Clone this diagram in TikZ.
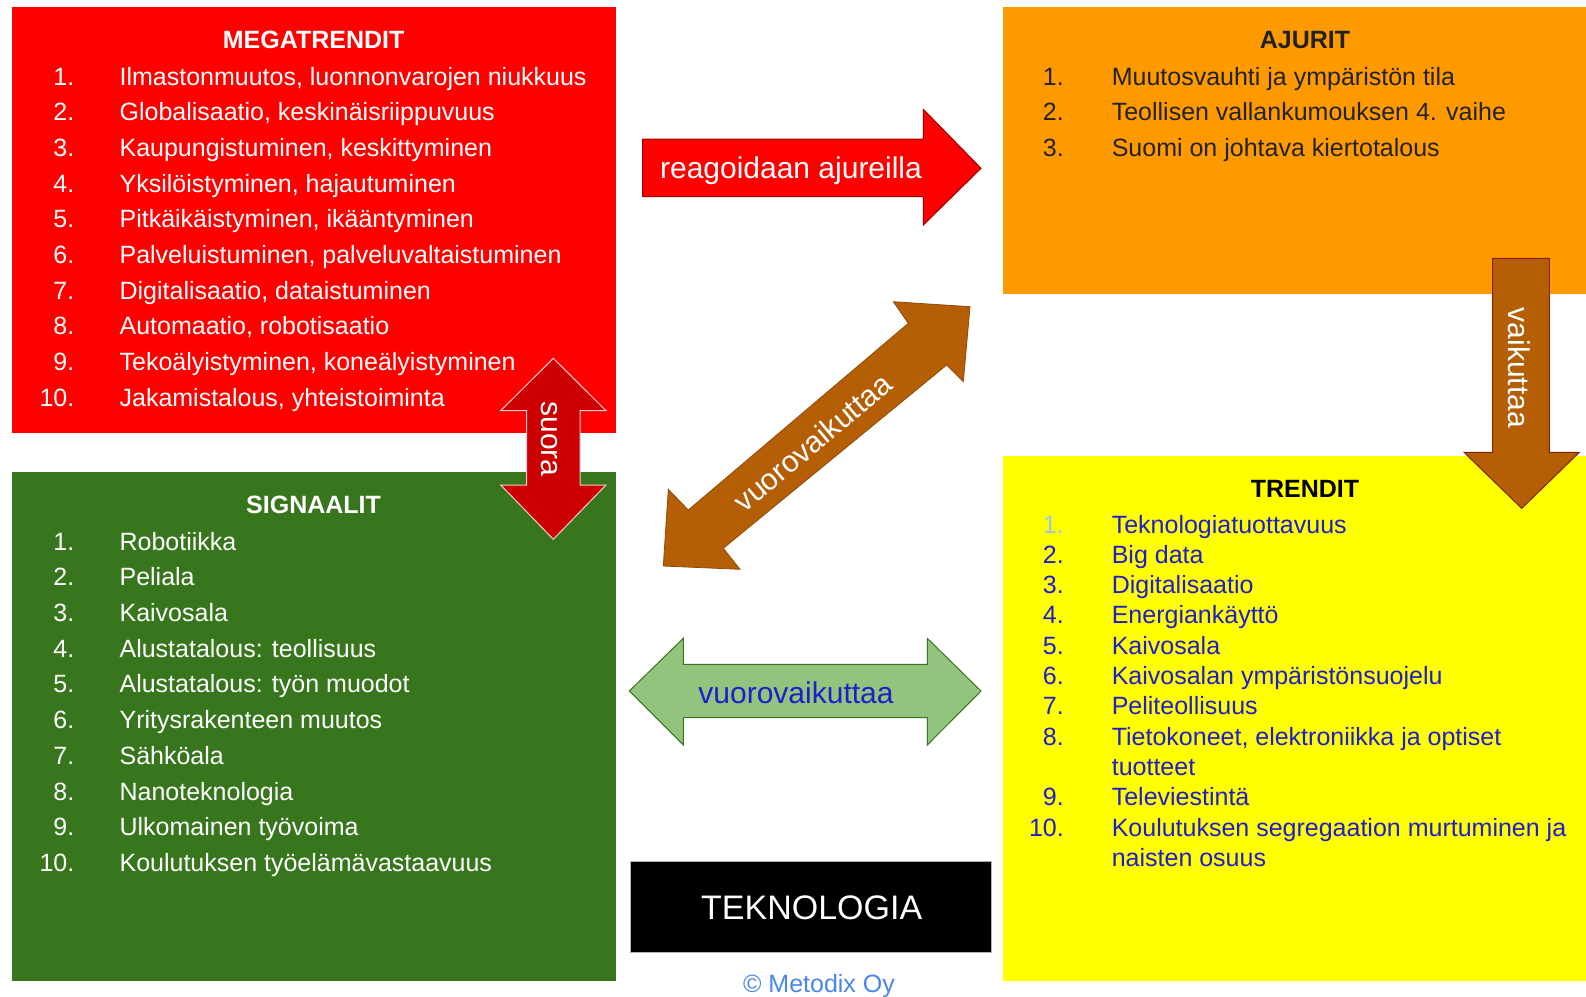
\documentclass[tikz,border=0pt]{standalone}
\usepackage{fontspec}
\setmainfont{Liberation Sans}
\definecolor{megared}{HTML}{FF0000}
\definecolor{siggreen}{HTML}{38761D}
\definecolor{ajorange}{HTML}{FF9900}
\definecolor{tryellow}{HTML}{FFFF00}
\definecolor{suorared}{HTML}{CC0000}
\definecolor{suoraedge}{HTML}{F4CCCC}
\definecolor{brownfill}{HTML}{B45F06}
\definecolor{brownedge}{HTML}{85200C}
\definecolor{lightgreen}{HTML}{93C47D}
\definecolor{trblue}{RGB}{30,30,205}
\definecolor{lightnum}{HTML}{9FC5E8}
\definecolor{copyblue}{HTML}{4A86E8}
\definecolor{ajtext}{HTML}{222222}
\definecolor{darkred}{HTML}{990000}
\tikzset{
  lbl/.style={inner sep=0pt, font=\fontsize{25}{30}\selectfont},
  num/.style={lbl, anchor=base east},
  itm/.style={lbl, anchor=base west},
  ttl/.style={inner sep=0pt, anchor=base, font=\fontsize{25}{30}\selectfont\bfseries},
  arrowtext/.style={inner sep=0pt, text height=20pt, text depth=0pt, font=\fontsize{30}{36}\selectfont, text=white},
}
\begin{document}
\begin{tikzpicture}[x=1pt,y=-1pt]
\useasboundingbox (0,0) rectangle (1586,996);
% panels
\fill[megared] (12,7) rectangle (616,433);
\fill[siggreen] (12,472) rectangle (616,981);
\fill[ajorange] (1003,7) rectangle (1586,294);
\fill[tryellow] (1003,456) rectangle (1586,981);

% MEGATRENDIT
\node[ttl, text=white] (mtitle) at (313.6,48.5) {MEGATRENDIT};
\foreach \t [count=\i] in {{Ilmastonmuutos, luonnonvarojen niukkuus},{Globalisaatio, keskinäisriippuvuus},{Kaupungistuminen, keskittyminen},{Yksilöistyminen, hajautuminen},{Pitkäikäistyminen, ikääntyminen},{Palveluistuminen, palveluvaltaistuminen},{Digitalisaatio, dataistuminen},{Automaatio, robotisaatio},{Tekoälyistyminen, koneälyistyminen},{Jakamistalous, yhteistoiminta}}{
  \node[num, text=white] (mn\i) at (74.5,{85+35.7*(\i-1)}) {\i.};
  \node[itm, text=white] (mt\i) at (119.4,{85+35.7*(\i-1)}) {\t};
}

% SIGNAALIT
\node[ttl, text=white] (stitle) at (313.6,513.7) {SIGNAALIT};
\foreach \t [count=\i] in {Robotiikka,Peliala,Kaivosala,{Alustatalous: teollisuus},{Alustatalous: työn muodot},{Yritysrakenteen muutos},Sähköala,Nanoteknologia,{Ulkomainen työvoima},{Koulutuksen työelämävastaavuus}}{
  \node[num, text=white] (sn\i) at (74.5,{550.1+35.7*(\i-1)}) {\i.};
  \node[itm, text=white] (st\i) at (119.4,{550.1+35.7*(\i-1)}) {\t};
}

% AJURIT
\node[ttl, text=ajtext] (atitle) at (1305,48.5) {AJURIT};
\foreach \t [count=\i] in {{Muutosvauhti ja ympäristön tila},{Teollisen vallankumouksen 4. vaihe},{Suomi on johtava kiertotalous}}{
  \node[num, text=ajtext] (an\i) at (1064,{85+35.7*(\i-1)}) {\i.};
  \node[itm, text=ajtext] (at\i) at (1111.6,{85+35.7*(\i-1)}) {\t};
}

% TRENDIT
\node[ttl, text=black] (ttitle) at (1305,497.5) {TRENDIT};
\node[num, text=lightnum] (tn1) at (1064,533) {1.};
\node[itm, text=trblue] (tt1) at (1111.6,533) {Teknologiatuottavuus};
\foreach \t [count=\i from 2] in {{Big data},Digitalisaatio,Energiankäyttö,Kaivosala,{Kaivosalan ympäristönsuojelu},Peliteollisuus,{Tietokoneet, elektroniikka ja optiset}}{
  \node[num, text=trblue] (tn\i) at (1064,{533+30.3*(\i-1)}) {\i.};
  \node[itm, text=trblue] (tt\i) at (1111.6,{533+30.3*(\i-1)}) {\t};
}
\node[itm, text=trblue] (tt8b) at (1111.6,{533+30.3*8}) {tuotteet};
\node[num, text=trblue] (tn9) at (1064,{533+30.3*9}) {9.};
\node[itm, text=trblue] (tt9) at (1111.6,{533+30.3*9}) {Televiestintä};
\node[num, text=trblue] (tn10) at (1064,{533+30.3*10}) {10.};
\node[itm, text=trblue] (tt10) at (1111.6,{533+30.3*10}) {Koulutuksen segregaation murtuminen ja};
\node[itm, text=trblue] (tt10b) at (1111.6,{533+30.3*11}) {naisten osuus};

% red arrow: reagoidaan ajureilla
\filldraw[fill=megared, draw=darkred, line width=1pt, line join=miter]
  (642.7,139) -- (923.3,139) -- (923.3,109.3) -- (981,168.3) -- (923.3,225) -- (923.3,196.7) -- (642.7,196.7) -- cycle;
\node[arrowtext] (reag) at (791,168) {reagoidaan ajureilla};

% suora double arrow
\filldraw[fill=suorared, draw=suoraedge, line width=1pt]
  (553.3,358.3) -- (606,410.7) -- (580,410.7) -- (580,485) -- (606,485) -- (553.3,539.3)
  -- (500.7,485) -- (526.7,485) -- (526.7,410.7) -- (500.7,410.7) -- cycle;
\node[arrowtext, rotate=-90] (suora) at (551,439) {suora};

% vaikuttaa down arrow
\filldraw[fill=brownfill, draw=brownedge, line width=1pt]
  (1492.7,258.3) -- (1549.3,258.3) -- (1549.3,452.3) -- (1579.3,452.3) -- (1521.7,508.3)
  -- (1464,452.3) -- (1492.7,452.3) -- cycle;
\node[arrowtext, rotate=-90] (vaik) at (1518.3,368) {vaikuttaa};

% diagonal double arrow
\filldraw[fill=brownfill, draw=brownfill!80!black, line width=0.8pt]
  (970,306.7) -- (963.3,381.7) -- (946.7,365) -- (723.3,548.3) -- (740,569.3) -- (663.3,566)
  -- (668.3,489.3) -- (688.3,510) -- (908.3,323.3) -- (893.3,301.7) -- cycle;
\node[arrowtext, rotate=40] (diag) at (813,443) {vuorovaikuttaa};

% green double arrow
\filldraw[fill=lightgreen, draw=siggreen, line width=1pt]
  (629.3,691) -- (683.3,638.3) -- (683.3,664.3) -- (927.3,664.3) -- (927.3,638.3) -- (981,691)
  -- (927.3,745) -- (927.3,717.7) -- (683.3,717.7) -- (683.3,745) -- cycle;
\node[arrowtext, text=trblue] (green) at (796,693) {vuorovaikuttaa};

% TEKNOLOGIA
\filldraw[fill=black, draw=gray!60, line width=1pt] (630,861) rectangle (991.7,952.3);
\node[inner sep=0pt, text height=24.4pt, text depth=0pt, font=\fontsize{34}{40}\selectfont, text=white] (tekn) at (811.7,907.7) {TEKNOLOGIA};

% copyright
\node[inner sep=0pt, text height=18pt, text depth=0pt, font=\fontsize{25}{30}\selectfont, text=copyblue] (copy) at (819,983.3) {© Metodix Oy};
\end{tikzpicture}
\end{document}
